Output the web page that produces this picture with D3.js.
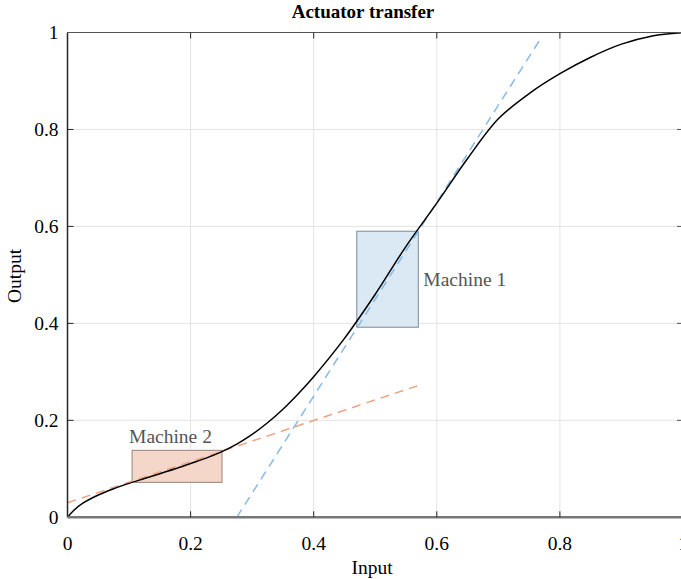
<!DOCTYPE html>
<html>
<head>
<meta charset="utf-8">
<script src="https://cdn.jsdelivr.net/npm/d3@7"></script>
<style>
  body { margin: 0; background: #fff; }
  text { font-family: "Liberation Serif", "Times New Roman", serif; }
</style>
</head>
<body>
<script>
// transfer curve
const curveX = [0, 0.01, 0.025, 0.05, 0.075, 0.1, 0.125, 0.15, 0.175, 0.2, 0.225, 0.25, 0.275, 0.3, 0.325, 0.35, 0.375, 0.4,
                0.45, 0.5, 0.55, 0.6, 0.65, 0.7, 0.75, 0.8, 0.85, 0.9, 0.95, 1];
const curveY = [0, 0.014, 0.029, 0.046, 0.059, 0.07, 0.08, 0.09, 0.1, 0.111, 0.122, 0.135, 0.151, 0.171, 0.195, 0.223, 0.255, 0.29,
                0.369, 0.46, 0.559, 0.648, 0.74, 0.822, 0.874, 0.915, 0.949, 0.976, 0.993, 1];

// tangent lines
const tangent1 = [[0.275, 0], [0.77, 0.99]];
const tangent2 = [[0, 0.03], [0.568, 0.271]];

// operating boxes
const boxes = [
  {name: "Machine 1", x0: 0.47, x1: 0.57, y0: 0.392, y1: 0.59, fill: "#dbe9f4", stroke: "#8e9ca7"},
  {name: "Machine 2", x0: 0.105, x1: 0.251, y0: 0.072, y1: 0.138, fill: "#f5d7ca", stroke: "#a8938a"}
];

const ticks = [0, 0.2, 0.4, 0.6, 0.8, 1];

const W = 681, H = 579;
const margin = {left: 67.5, right: -2, top: 32.5, bottom: 61.7};

const svg = d3.select("body").append("svg")
    .attr("width", W)
    .attr("height", H);

const x = d3.scaleLinear().domain([0, 1]).range([margin.left, W - margin.right]);
const y = d3.scaleLinear().domain([0, 1]).range([H - margin.bottom, margin.top]);

// grid
svg.append("g").selectAll("line")
    .data(ticks.slice(1, -1))
    .join("line")
    .attr("x1", d => x(d)).attr("x2", d => x(d))
    .attr("y1", y(0)).attr("y2", y(1))
    .attr("stroke", "#e3e3e3").attr("stroke-width", 1);
svg.append("g").selectAll("line")
    .data(ticks.slice(1, -1))
    .join("line")
    .attr("y1", d => y(d)).attr("y2", d => y(d))
    .attr("x1", x(0)).attr("x2", x(1))
    .attr("stroke", "#e3e3e3").attr("stroke-width", 1);

// boxes
svg.append("g").selectAll("rect")
    .data(boxes)
    .join("rect")
    .attr("x", d => x(d.x0))
    .attr("y", d => y(d.y1))
    .attr("width", d => x(d.x1) - x(d.x0))
    .attr("height", d => y(d.y0) - y(d.y1))
    .attr("fill", d => d.fill)
    .attr("stroke", d => d.stroke)
    .attr("stroke-width", 1.2);

const line = d3.line().x(d => x(d[0])).y(d => y(d[1]));

// tangent lines
svg.append("path")
    .attr("d", line(tangent1))
    .attr("fill", "none")
    .attr("stroke", "#86bbe6")
    .attr("stroke-width", 1.5)
    .attr("stroke-dasharray", "9,6");
svg.append("path")
    .attr("d", line(tangent2))
    .attr("fill", "none")
    .attr("stroke", "#f0a282")
    .attr("stroke-width", 1.5)
    .attr("stroke-dasharray", "9,6");

// transfer curve
const pts = curveX.map((v, i) => [v, curveY[i]]);
svg.append("path")
    .attr("d", d3.line().x(d => x(d[0])).y(d => y(d[1])).curve(d3.curveCatmullRom.alpha(0.5))(pts))
    .attr("fill", "none")
    .attr("stroke", "#000")
    .attr("stroke-width", 1.5);

// box labels
svg.append("text")
    .attr("x", x(0.57) + 5).attr("y", y(0.49) + 6)
    .attr("font-size", 19.5).attr("fill", "#555")
    .text(boxes[0].name);
svg.append("text")
    .attr("x", x(0.1)).attr("y", y(0.165) + 6)
    .attr("font-size", 19.5).attr("fill", "#555")
    .text(boxes[1].name);

// axes frame
svg.append("line")
    .attr("x1", x(0)).attr("x2", x(1)).attr("y1", y(1)).attr("y2", y(1))
    .attr("stroke", "#555").attr("stroke-width", 1.2);
svg.append("line")
    .attr("x1", x(0)).attr("x2", x(0)).attr("y1", y(0)).attr("y2", y(1))
    .attr("stroke", "#262626").attr("stroke-width", 1.5);
svg.append("line")
    .attr("x1", x(0)).attr("x2", x(1)).attr("y1", y(0)).attr("y2", y(0))
    .attr("stroke", "#777").attr("stroke-width", 2.5);

// inward ticks
const tk = 6;
svg.append("g").selectAll("line")
    .data(ticks.slice(1, -1))
    .join("line")
    .attr("x1", d => x(d)).attr("x2", d => x(d))
    .attr("y1", y(0)).attr("y2", y(0) - tk)
    .attr("stroke", "#262626");
svg.append("g").selectAll("line")
    .data(ticks.slice(1, -1))
    .join("line")
    .attr("x1", d => x(d)).attr("x2", d => x(d))
    .attr("y1", y(1)).attr("y2", y(1) + tk)
    .attr("stroke", "#262626");
svg.append("g").selectAll("line")
    .data(ticks.slice(1, -1))
    .join("line")
    .attr("y1", d => y(d)).attr("y2", d => y(d))
    .attr("x1", x(0)).attr("x2", x(0) + tk)
    .attr("stroke", "#262626");
svg.append("g").selectAll("line")
    .data(ticks.slice(1, -1))
    .join("line")
    .attr("y1", d => y(d)).attr("y2", d => y(d))
    .attr("x1", x(1)).attr("x2", x(1) - tk)
    .attr("stroke", "#555");

// tick labels
const fmt = d => d3.format("")(d);
svg.append("g").selectAll("text")
    .data(ticks)
    .join("text")
    .attr("x", d => x(d)).attr("y", y(0) + 33)
    .attr("text-anchor", "middle")
    .attr("font-size", 19.5).attr("fill", "#000")
    .text(fmt);
svg.append("g").selectAll("text")
    .data(ticks)
    .join("text")
    .attr("x", x(0) - 9).attr("y", d => y(d) + 6.5)
    .attr("text-anchor", "end")
    .attr("font-size", 19.5).attr("fill", "#000")
    .text(fmt);

// titles
svg.append("text")
    .attr("x", 363).attr("y", 18)
    .attr("text-anchor", "middle")
    .attr("font-size", 19).attr("font-weight", "bold")
    .text("Actuator transfer");
svg.append("text")
    .attr("x", 372).attr("y", 574)
    .attr("text-anchor", "middle")
    .attr("font-size", 19.5)
    .text("Input");
svg.append("text")
    .attr("transform", "translate(21,276) rotate(-90)")
    .attr("text-anchor", "middle")
    .attr("font-size", 19.5)
    .text("Output");
</script>
</body>
</html>
